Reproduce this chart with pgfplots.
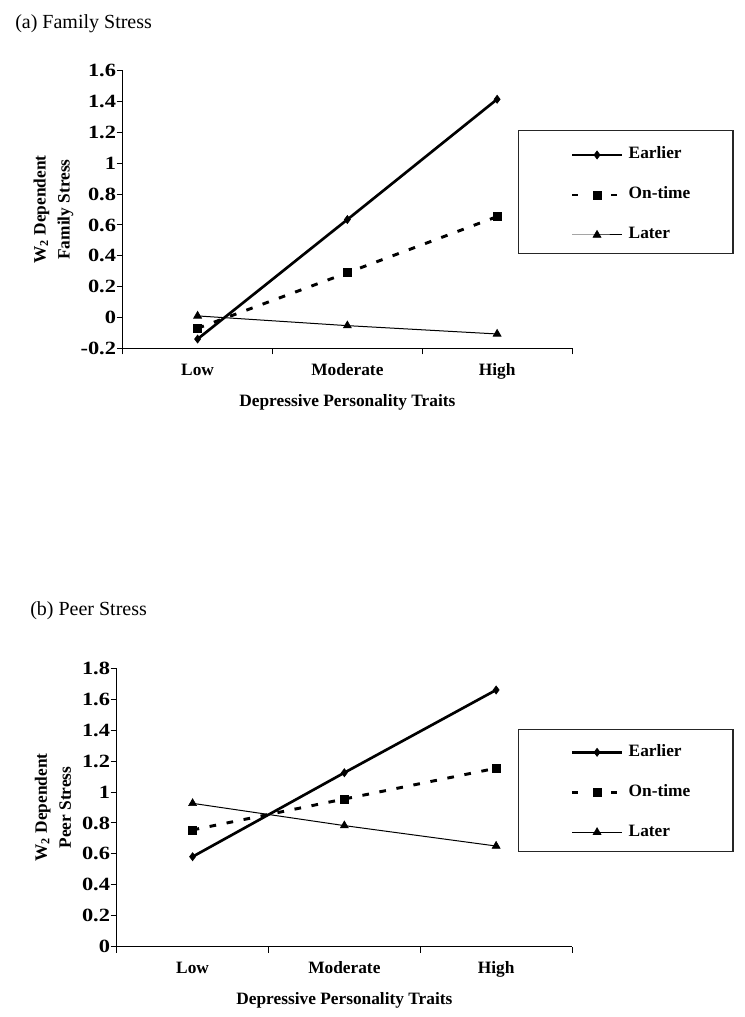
\documentclass[border=0pt]{standalone}
\usepackage{fontspec}
\setmainfont{Liberation Serif}
\usepackage{graphicx}
\usepackage{pgfplots}
\pgfplotsset{compat=1.18}
\newcommand\yl[1]{\scalebox{1.2}[1]{#1}}

\pgfplotsset{
 panel/.style={
  scale only axis,
  anchor=south west,
  xmin=0, xmax=3,
  axis x line*=bottom, axis y line*=left,
  tick align=outside,
  xtick={0,1,2,3},
  xticklabels={,,,},
  extra x ticks={0.5,1.5,2.5},
  extra x tick labels={Low,Moderate,High},
  extra x tick style={major tick length=0pt},
  major tick length=4.5pt,
  tick style={black, line width=0.75pt},
  axis line style={black, line width=0.9pt},
  ticklabel style={font=\bfseries\fontsize{13}{15.6}\selectfont},
  xticklabel style={anchor=base, yshift=-20.4pt},
  yticklabel style={inner sep=0pt, xshift=-0.3pt, font=\bfseries\fontsize{14}{16}\selectfont},
  label style={font=\bfseries\fontsize{13}{18}\selectfont},
  xlabel={Depressive Personality Traits},
  xlabel style={at={(axis description cs:0.5,0)}, anchor=base, yshift=-43.4pt},
  clip=false,
  legend image code/.code={\draw[mark repeat=2,mark phase=2,##1] plot coordinates {(0pt,0pt) (18.75pt,0pt) (37.5pt,0pt)};},
  legend style={draw=none, fill=none, anchor=north west, row sep=18pt, inner sep=0pt,
     nodes={inner sep=0pt, text height=9pt, text depth=3pt},
     font=\bfseries\fontsize{13}{15.6}\selectfont, column sep=4pt},
  legend cell align=left,
 },
 earlier/.style={black, line width=2pt, mark=diamond*, mark size=3pt, mark options={solid, fill=black, line width=0.5pt}},
 ontime/.style={black, line width=2.2pt, dash pattern=on 5pt off 8pt, mark=square*, mark size=3pt, mark options={solid, fill=black, line width=0.5pt},
   legend image code/.code={\draw[##1, mark=none, dash pattern=on 4.3pt off 25pt on 4.5pt off 10pt] (0pt,0pt) -- (33.8pt,0pt);
     \draw[##1, only marks] plot coordinates {(19pt,0pt)};}},
 later/.style={black, line width=0.75pt, mark=triangle*, mark size=3.4pt, mark options={solid, fill=black, line width=0.5pt}},
}

\begin{document}
\begin{tikzpicture}
\useasboundingbox (0pt,0pt) rectangle (558pt,-762.75pt);

\node[anchor=base west, font=\fontsize{15}{18}\selectfont, inner sep=0pt] at (11.25pt,-21.2pt) {(a) Family Stress};
\node[anchor=base west, font=\fontsize{15}{18}\selectfont, inner sep=0pt] at (22.5pt,-461.8pt) {(b) Peer Stress};

\begin{axis}[panel,
  at={(92.03pt,-261.23pt)}, width=336.98pt, height=208.2pt,
  ymin=-0.2, ymax=1.6,
  ytick={-0.2,0,0.2,0.4,0.6,0.8,1,1.2,1.4,1.6},
  yticklabels={\yl{-0.2},\yl{0},\yl{0.2},\yl{0.4},\yl{0.6},\yl{0.8},\yl{1},\yl{1.2},\yl{1.4},\yl{1.6}},
  ylabel={W\textsubscript{2} Dependent\\Family Stress},
  ylabel style={align=center, at={(axis description cs:-0.154,0.5)}, anchor=center},
  legend style={at={(0.9962,0.7262)}},
]
\addplot[earlier] coordinates {(0.5,-0.14) (1.5,0.635) (2.5,1.415)};
\addplot[ontime] coordinates {(0.5,-0.07) (1.5,0.29) (2.5,0.654)};
\addplot[later] coordinates {(0.5,0.01) (1.5,-0.053) (2.5,-0.107)};
\legend{Earlier,On-time,Later}
\end{axis}
\draw[black!85, line width=0.8pt] (389.03pt,-98.03pt) rectangle (549.75pt,-189.98pt);

\begin{axis}[panel,
  at={(87.53pt,-710.03pt)}, width=341.48pt, height=208.8pt,
  ymin=0, ymax=1.8,
  ytick={0,0.2,0.4,0.6,0.8,1,1.2,1.4,1.6,1.8},
  yticklabels={\yl{0},\yl{0.2},\yl{0.4},\yl{0.6},\yl{0.8},\yl{1},\yl{1.2},\yl{1.4},\yl{1.6},\yl{1.8}},
  ylabel={W\textsubscript{2} Dependent\\Peer Stress},
  ylabel style={align=center, at={(axis description cs:-0.14,0.5)}, anchor=center},
  legend style={at={(0.9963,0.728)}},
]
\addplot[earlier] coordinates {(0.5,0.582) (1.5,1.125) (2.5,1.66)};
\addplot[ontime] coordinates {(0.5,0.755) (1.5,0.955) (2.5,1.154)};
\addplot[later] coordinates {(0.5,0.927) (1.5,0.783) (2.5,0.651)};
\legend{Earlier,On-time,Later}
\end{axis}
\draw[black!85, line width=0.8pt] (389.03pt,-546.98pt) rectangle (549.75pt,-638.78pt);
\end{tikzpicture}
\end{document}
